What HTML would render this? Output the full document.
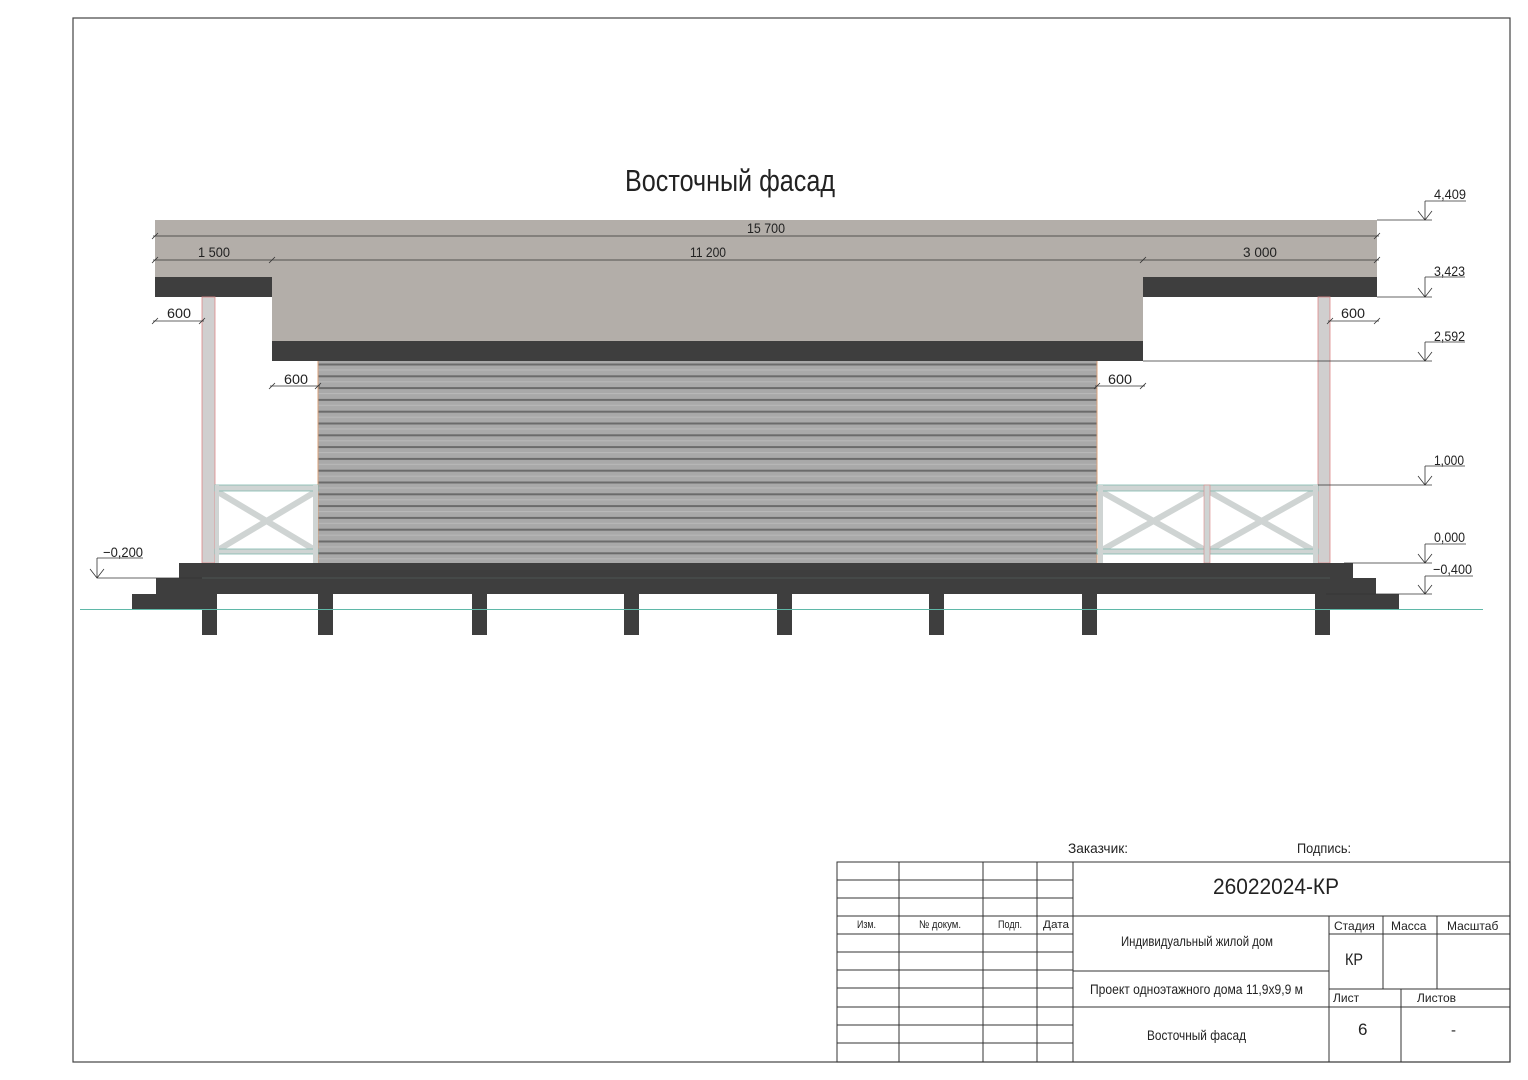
<!DOCTYPE html>
<html><head><meta charset="utf-8"><style>
html,body{margin:0;padding:0;background:#fff;}
svg{display:block;}
text{font-family:"Liberation Sans Narrow","Liberation Sans",sans-serif;fill:#222;}
</style></head><body>
<svg width="1528" height="1080" viewBox="0 0 1528 1080" xmlns="http://www.w3.org/2000/svg">
<defs>
<pattern id="sid" x="0" y="363.5" width="20" height="11.8" patternUnits="userSpaceOnUse">
<rect width="20" height="11.8" fill="#a9a9a9"/>
<rect y="0" width="20" height="2" fill="#6b6b6b"/>
<rect y="6" width="20" height="1" fill="#b9b9b9"/>
</pattern>
</defs>
<rect x="0" y="0" width="1528" height="1080" fill="#fff"/>
<rect x="73" y="18" width="1437" height="1044" fill="none" stroke="#444" stroke-width="1.2"/>

<text x="625" y="191" font-size="31" textLength="210" lengthAdjust="spacingAndGlyphs" style="font-family:'Liberation Sans Narrow','Liberation Sans',sans-serif;font-weight:300">Восточный фасад</text>

<!-- roof -->
<rect x="155" y="220" width="1222" height="57" fill="#b3aea9"/>
<rect x="272" y="277" width="871" height="64" fill="#b3aea9"/>
<rect x="155" y="277" width="117" height="20" fill="#3e3e3e"/>
<rect x="1143" y="277" width="234" height="20" fill="#3e3e3e"/>
<rect x="272" y="341" width="871" height="20" fill="#3e3e3e"/>

<!-- wall -->
<rect x="318" y="361" width="779" height="202" fill="url(#sid)"/>
<line x1="318" y1="361" x2="318" y2="563" stroke="#d9a07a" stroke-width="1"/>
<line x1="1097" y1="361" x2="1097" y2="563" stroke="#d9a07a" stroke-width="1"/>

<!-- posts -->
<rect x="202" y="297" width="13" height="266" fill="#d0cfcf" stroke="#d88" stroke-width="0.8"/>
<rect x="1318" y="297" width="12" height="266" fill="#d0cfcf" stroke="#d88" stroke-width="0.8"/>

<!-- railings -->
<g fill="none" stroke="#cfd4d3" stroke-width="6">
<line x1="218" y1="492" x2="315" y2="550"/><line x1="218" y1="550" x2="315" y2="492"/>
<line x1="1102" y1="492" x2="1205" y2="550"/><line x1="1102" y1="550" x2="1205" y2="492"/>
<line x1="1210" y1="492" x2="1313" y2="550"/><line x1="1210" y1="550" x2="1313" y2="492"/>
</g>
<g fill="#cfd4d3" stroke="#7fb8ae" stroke-width="0.8">
<rect x="215" y="485" width="103" height="6"/>
<rect x="215" y="549" width="103" height="5"/>
<rect x="1097" y="485" width="221" height="6"/>
<rect x="1097" y="549" width="221" height="5"/>
</g>
<rect x="215" y="485" width="4" height="78" fill="#cfd4d3"/>
<rect x="313" y="485" width="5" height="78" fill="#cfd4d3"/>
<rect x="1098" y="485" width="5" height="78" fill="#cfd4d3"/>
<rect x="1204" y="485" width="6" height="78" fill="#cfd4d3" stroke="#d88" stroke-width="0.6"/>
<rect x="1313" y="485" width="5" height="78" fill="#cfd4d3"/>

<!-- platform & steps -->
<rect x="202" y="563" width="1128" height="31" fill="#3e3e3e"/>
<line x1="202" y1="578" x2="1330" y2="578" stroke="#5a6a68" stroke-width="0.6"/>
<rect x="179" y="563" width="23" height="31" fill="#3e3e3e"/>
<rect x="156" y="578" width="46" height="31" fill="#3e3e3e"/>
<rect x="132" y="594" width="24" height="15" fill="#3e3e3e"/>
<rect x="1330" y="563" width="23" height="46" fill="#3e3e3e"/>
<rect x="1353" y="578" width="23" height="31" fill="#3e3e3e"/>
<rect x="1376" y="594" width="23" height="15" fill="#3e3e3e"/>
<!-- piles -->
<g fill="#3e3e3e">
<rect x="202" y="594" width="15" height="41"/><rect x="318" y="594" width="15" height="41"/>
<rect x="472" y="594" width="15" height="41"/><rect x="624" y="594" width="15" height="41"/>
<rect x="777" y="594" width="15" height="41"/><rect x="929" y="594" width="15" height="41"/>
<rect x="1082" y="594" width="15" height="41"/><rect x="1315" y="594" width="15" height="41"/>
</g>
<line x1="80" y1="609.5" x2="1483" y2="609.5" stroke="#5fb8a8" stroke-width="1"/>

<!-- dimension lines -->
<g stroke="#333" stroke-width="0.8" fill="none">
<line x1="153" y1="236" x2="1379" y2="236"/>
<line x1="153" y1="260" x2="1379" y2="260"/>
<line x1="153" y1="321" x2="204" y2="321"/>
<line x1="1328" y1="321" x2="1379" y2="321"/>
<line x1="270" y1="386" x2="320" y2="386"/>
<line x1="1095" y1="386" x2="1145" y2="386"/>
<path d="M152,239 l6,-6 M152,263 l6,-6 M269,263 l6,-6 M1140,263 l6,-6 M1374,263 l6,-6 M1374,239 l6,-6 M152,324 l6,-6 M199,324 l6,-6 M1327,324 l6,-6 M1374,324 l6,-6 M269,389 l6,-6 M315,389 l6,-6 M1094,389 l6,-6 M1140,389 l6,-6"/>
<!-- level marks -->
<path d="M1377,220 H1432 M1425,201 V220 M1418,211 L1425,220 L1432,211 M1425,201 H1466"/>
<path d="M1377,297 H1432 M1425,277 V297 M1418,288 L1425,297 L1432,288 M1425,277 H1465"/>
<path d="M1143,361 H1432 M1425,342 V361 M1418,352 L1425,361 L1432,352 M1425,342 H1465"/>
<path d="M1318,485 H1432 M1425,466 V485 M1418,476 L1425,485 L1432,476 M1425,466 H1465"/>
<path d="M1344,563 H1432 M1425,544 V563 M1418,554 L1425,563 L1432,554 M1425,544 H1466"/>
<path d="M1326,594 H1432 M1425,576 V594 M1418,585 L1425,594 L1432,585 M1425,576 H1473"/>
<path d="M97,578 H202 M97,558 V578 M90,569 L97,578 L104,569 M97,558 H143"/>
</g>
<g font-size="14">
<text x="747" y="233" textLength="38" lengthAdjust="spacingAndGlyphs">15 700</text>
<text x="198" y="257" textLength="32" lengthAdjust="spacingAndGlyphs">1 500</text>
<text x="690" y="257" textLength="36" lengthAdjust="spacingAndGlyphs">11 200</text>
<text x="1243" y="257" textLength="34" lengthAdjust="spacingAndGlyphs">3 000</text>
<text x="167" y="318" textLength="24" lengthAdjust="spacingAndGlyphs">600</text>
<text x="1341" y="318" textLength="24" lengthAdjust="spacingAndGlyphs">600</text>
<text x="284" y="384" textLength="24" lengthAdjust="spacingAndGlyphs">600</text>
<text x="1108" y="384" textLength="24" lengthAdjust="spacingAndGlyphs">600</text>
<text x="1434" y="199" textLength="32" lengthAdjust="spacingAndGlyphs">4,409</text>
<text x="1434" y="276" textLength="31" lengthAdjust="spacingAndGlyphs">3,423</text>
<text x="1434" y="341" textLength="31" lengthAdjust="spacingAndGlyphs">2,592</text>
<text x="1434" y="465" textLength="30" lengthAdjust="spacingAndGlyphs">1,000</text>
<text x="1434" y="542" textLength="31" lengthAdjust="spacingAndGlyphs">0,000</text>
<text x="1433" y="574" textLength="39" lengthAdjust="spacingAndGlyphs">−0,400</text>
<text x="103" y="557" textLength="40" lengthAdjust="spacingAndGlyphs">−0,200</text>
</g>

<!-- title block -->
<text x="1068" y="853" font-size="14" textLength="60" lengthAdjust="spacingAndGlyphs">Заказчик:</text>
<text x="1297" y="853" font-size="14" textLength="54" lengthAdjust="spacingAndGlyphs">Подпись:</text>
<g stroke="#333" stroke-width="1" fill="none">
<rect x="837" y="862" width="673" height="200"/>
<path d="M899,862 V1062 M983,862 V1062 M1037,862 V1062 M1073,862 V1062"/>
<path d="M837,880 H1073 M837,898 H1073 M837,916 H1510 M837,934 H1073 M837,952 H1073 M837,970 H1073 M837,988 H1073 M837,1007 H1073 M837,1025 H1073 M837,1043 H1073"/>
<path d="M1073,971 H1329 M1073,1007 H1510 M1329,916 V1062 M1329,934 H1510 M1383,916 V989 M1437,916 V989 M1329,989 H1510 M1401,989 V1062"/>
</g>
<text x="1213" y="894" font-size="22" textLength="126" lengthAdjust="spacingAndGlyphs">26022024-КР</text>
<g font-size="11">
<text x="857" y="928" textLength="19" lengthAdjust="spacingAndGlyphs">Изм.</text>
<text x="919" y="928" textLength="42" lengthAdjust="spacingAndGlyphs">№ докум.</text>
<text x="998" y="928" textLength="24" lengthAdjust="spacingAndGlyphs">Подп.</text>
<text x="1043" y="928" textLength="26" lengthAdjust="spacingAndGlyphs">Дата</text>
</g>
<g font-size="14">
<text x="1121" y="946" textLength="152" lengthAdjust="spacingAndGlyphs">Индивидуальный жилой дом</text>
<text x="1090" y="994" textLength="213" lengthAdjust="spacingAndGlyphs">Проект одноэтажного дома 11,9х9,9 м</text>
<text x="1147" y="1040" textLength="99" lengthAdjust="spacingAndGlyphs">Восточный фасад</text>
<text x="1345" y="965" font-size="17" textLength="18" lengthAdjust="spacingAndGlyphs">КР</text>
<text x="1358" y="1035" font-size="17">6</text>
<text x="1451" y="1035" font-size="15">-</text>
</g>
<g font-size="12" style="font-family:'Liberation Sans',sans-serif">
<text x="1334" y="930">Стадия</text>
<text x="1391" y="930">Масса</text>
<text x="1447" y="930">Масштаб</text>
<text x="1333" y="1002">Лист</text>
<text x="1417" y="1002">Листов</text>
</g>
</svg>
</body></html>
